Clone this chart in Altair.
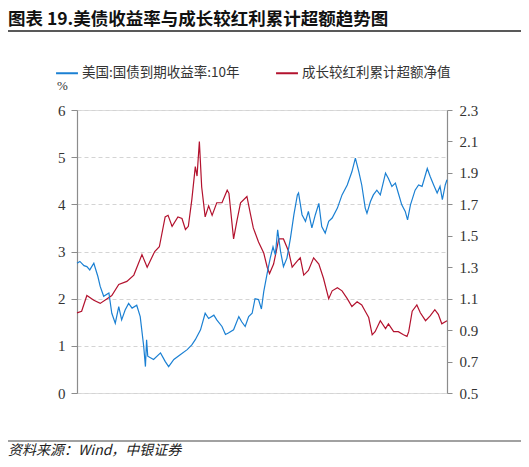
import altair as alt
import pandas as pd

# ---------------- data ----------------
us_t = [2019.00, 2019.05, 2019.12, 2019.17, 2019.22, 2019.29, 2019.36, 2019.40, 2019.46, 2019.55,
        2019.60, 2019.66, 2019.72, 2019.77, 2019.83, 2019.89, 2019.95, 2020.03, 2020.09, 2020.15,
        2020.18, 2020.20, 2020.22, 2020.32, 2020.44, 2020.52, 2020.58, 2020.67, 2020.78, 2020.90,
        2020.98, 2021.04, 2021.13, 2021.21, 2021.27, 2021.36, 2021.41, 2021.50, 2021.56, 2021.61,
        2021.70, 2021.79, 2021.84, 2021.90, 2021.96, 2022.02, 2022.07, 2022.13, 2022.18, 2022.22,
        2022.28, 2022.33, 2022.38, 2022.42, 2022.46, 2022.51, 2022.56, 2022.62, 2022.68, 2022.74,
        2022.80, 2022.82, 2022.88, 2022.94, 2022.99, 2023.05, 2023.11, 2023.17, 2023.22, 2023.28,
        2023.34, 2023.40, 2023.49, 2023.57, 2023.66, 2023.74, 2023.80, 2023.86, 2023.91, 2023.97,
        2024.00, 2024.06, 2024.11, 2024.17, 2024.23, 2024.32, 2024.37, 2024.43, 2024.49, 2024.54,
        2024.60, 2024.66, 2024.70, 2024.75, 2024.83, 2024.89, 2024.95, 2025.00, 2025.04, 2025.09,
        2025.15, 2025.21, 2025.26, 2025.30, 2025.35, 2025.38]
us_yield = [2.75, 2.79, 2.70, 2.68, 2.61, 2.75, 2.47, 2.26, 2.05, 2.12,
            1.69, 1.48, 1.83, 1.55, 1.76, 1.90, 1.80, 1.86, 1.62, 0.99,
            0.56, 1.13, 0.78, 0.71, 0.85, 0.67, 0.56, 0.71, 0.81, 0.92,
            1.02, 1.13, 1.34, 1.69, 1.58, 1.65, 1.55, 1.41, 1.24, 1.27,
            1.34, 1.62, 1.51, 1.41, 1.62, 1.69, 2.00, 1.98, 1.78, 2.15,
            2.54, 2.85, 3.10, 2.93, 3.46, 3.00, 2.68, 2.86, 3.28, 3.78,
            4.20, 4.24, 3.78, 3.64, 3.85, 3.50, 3.78, 4.02, 3.53, 3.39,
            3.64, 3.71, 3.92, 4.20, 4.41, 4.69, 4.98, 4.69, 4.41, 3.92,
            3.81, 4.06, 4.20, 4.30, 4.20, 4.66, 4.55, 4.38, 4.45, 4.24,
            3.99, 3.85, 3.67, 3.99, 4.30, 4.41, 4.38, 4.59, 4.76, 4.59,
            4.41, 4.24, 4.38, 4.10, 4.41, 4.52]

ex_t = [2019.00, 2019.08, 2019.17, 2019.29, 2019.40, 2019.52, 2019.60, 2019.72, 2019.86, 2019.98,
        2020.12, 2020.21, 2020.34, 2020.42, 2020.52, 2020.57, 2020.64, 2020.74, 2020.81, 2020.87,
        2020.92, 2020.98, 2021.04, 2021.07, 2021.11, 2021.15, 2021.21, 2021.27, 2021.33, 2021.41,
        2021.50, 2021.59, 2021.62, 2021.70, 2021.76, 2021.82, 2021.93, 2021.99, 2022.04, 2022.13,
        2022.22, 2022.28, 2022.32, 2022.39, 2022.48, 2022.56, 2022.65, 2022.71, 2022.80, 2022.85,
        2022.91, 2022.99, 2023.08, 2023.17, 2023.25, 2023.34, 2023.40, 2023.49, 2023.57, 2023.66,
        2023.74, 2023.83, 2023.91, 2023.97, 2024.03, 2024.09, 2024.14, 2024.23, 2024.32, 2024.37,
        2024.46, 2024.54, 2024.63, 2024.69, 2024.72, 2024.78, 2024.86, 2024.92, 2025.01, 2025.09,
        2025.17, 2025.23, 2025.29, 2025.38]
ex_value = [1.01, 1.02, 1.12, 1.09, 1.07, 1.10, 1.12, 1.19, 1.21, 1.25,
            1.38, 1.30, 1.40, 1.43, 1.62, 1.63, 1.56, 1.62, 1.61, 1.54,
            1.56, 1.73, 1.94, 1.88, 2.10, 1.81, 1.62, 1.69, 1.63, 1.71,
            1.71, 1.79, 1.77, 1.48, 1.60, 1.71, 1.75, 1.64, 1.55, 1.46,
            1.39, 1.30, 1.26, 1.32, 1.48, 1.48, 1.40, 1.30, 1.34, 1.36,
            1.25, 1.28, 1.36, 1.32, 1.23, 1.10, 1.15, 1.17, 1.15, 1.10,
            1.05, 1.08, 1.06, 1.02, 0.98, 0.87, 0.89, 0.96, 0.91, 0.94,
            0.89, 0.89, 0.87, 0.86, 0.89, 1.02, 1.06, 1.01, 0.96, 0.99,
            1.03, 1.00, 0.94, 0.96]

year_ticks = [2019, 2020, 2021, 2022, 2023, 2024, 2025]
left_ticks = [0, 1, 2, 3, 4, 5, 6]
right_ticks = [0.5, 0.7, 0.9, 1.1, 1.3, 1.5, 1.7, 1.9, 2.1, 2.3]

SERIES_US = "美国:国债到期收益率:10年"
SERIES_EX = "成长较红利累计超额净值"
TITLE = "图表 19.美债收益率与成长较红利累计超额趋势图"
SOURCE = "资料来源：Wind，中银证券"

# ---------------- styling ----------------
BLUE = "#1b80d3"
RED = "#b3122e"
SERIF = "Liberation Serif, Noto Sans CJK SC"
CJK = "Noto Sans CJK SC"
AXIS_GREY = "#8c8c8c"
GRID = "#d4d4d4"
TXT = "#333333"

W, H = 370, 283

df_us = pd.DataFrame({"t": us_t, "v": us_yield, "s": SERIES_US})
df_ex = pd.DataFrame({"t": ex_t, "v": ex_value, "s": SERIES_EX})

x_scale = alt.Scale(domain=[2019, 2025.38], nice=False, zero=False)
color = alt.Color(
    "s:N",
    scale=alt.Scale(domain=[SERIES_US, SERIES_EX], range=[BLUE, RED]),
    legend=alt.Legend(
        title=None, orient="none", direction="horizontal",
        legendX=-22, legendY=-49,
        symbolType="stroke", symbolSize=480, symbolStrokeWidth=2,
        labelFont=CJK, labelFontSize=13.5, labelColor=TXT, labelLimit=400,
        labelOffset=3, columnPadding=32,
    ),
)

x_axis = alt.Axis(
    values=year_ticks, format="d", title=None,
    grid=True, gridDash=[4, 3], gridColor=GRID,
    domainColor=AXIS_GREY, domainWidth=1.2,
    tickColor=AXIS_GREY, tickSize=4,
    labelFont=SERIF, labelFontSize=15, labelColor=TXT, labelPadding=4,
)

red = alt.Chart(df_ex).mark_line(strokeWidth=1.2).encode(
    x=alt.X("t:Q", scale=x_scale, axis=None),
    y=alt.Y("v:Q", scale=alt.Scale(domain=[0.5, 2.3], nice=False, zero=False),
            axis=alt.Axis(orient="right", values=right_ticks, format=".1f", title=None,
                          grid=False, domainColor=AXIS_GREY, domainWidth=1.2,
                          tickColor=AXIS_GREY, tickSize=5,
                          labelFont=SERIF, labelFontSize=15, labelColor=TXT, labelPadding=7)),
    color=color,
)

blue = alt.Chart(df_us).mark_line(strokeWidth=1.2).encode(
    x=alt.X("t:Q", scale=x_scale, axis=x_axis),
    y=alt.Y("v:Q", scale=alt.Scale(domain=[0, 6], nice=False),
            axis=alt.Axis(orient="left", values=left_ticks, format="d",
                          title="%", titleAngle=0, titleX=-15, titleY=-25,
                          titleAlign="center", titleBaseline="middle",
                          titleFont=SERIF, titleFontSize=13, titleFontWeight="normal",
                          titleColor=TXT,
                          grid=True, gridDash=[4, 3], gridColor=GRID,
                          domainColor=AXIS_GREY, domainWidth=1.2,
                          tickColor=AXIS_GREY, tickSize=6,
                          labelFont=SERIF, labelFontSize=15, labelColor=TXT, labelPadding=6)),
    color=color,
)

lines = alt.layer(red, blue).resolve_scale(y="independent")

# ---------------- decorations (title, separators, source) ----------------
title_df = pd.DataFrame({"text": [TITLE]})
title = alt.Chart(title_df).mark_text(
    align="left", baseline="middle", font=CJK, fontSize=17.5, fontWeight="bold", color="#111111"
).encode(x=alt.value(-69), y=alt.value(-90), text="text:N")

top_rule = alt.Chart(title_df).mark_rule(color="#222222", strokeWidth=1.5).encode(
    x=alt.value(-69), x2=alt.value(444), y=alt.value(-79)
)
bottom_rule = alt.Chart(title_df).mark_rule(color="#444444", strokeWidth=1.2).encode(
    x=alt.value(-69), x2=alt.value(444), y=alt.value(331)
)
source_df = pd.DataFrame({"text": [SOURCE]})
source = alt.Chart(source_df).mark_text(
    align="left", baseline="middle", font=CJK, fontSize=14, fontStyle="italic", color="#222222"
).encode(x=alt.value(-69), y=alt.value(341), text="text:N")

chart = alt.layer(lines, title, top_rule, bottom_rule, source).properties(
    width=W, height=H,
    padding={"left": 69, "top": 102, "right": 74, "bottom": 66},
    autosize=alt.AutoSizeParams(type="none"),
).configure_view(stroke=None).configure(background="white")

chart.save("out.html", embed_options={"renderer": "svg", "actions": False})
